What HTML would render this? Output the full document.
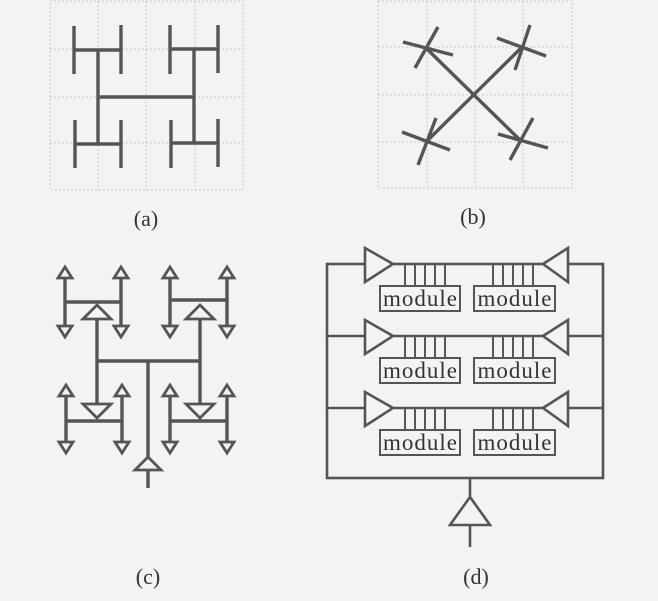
<!DOCTYPE html>
<html><head><meta charset="utf-8"><style>
html,body{margin:0;padding:0;background:#f3f3f1;}
svg{display:block}
text{font-family:"Liberation Serif",serif;fill:#333}
</style></head><body>
<svg width="658" height="601" viewBox="0 0 658 601" xmlns="http://www.w3.org/2000/svg">
<rect width="658" height="601" fill="#f3f3f1"/>
<g stroke="#c8c8c8" stroke-width="1" stroke-dasharray="2,2" fill="none">
 <rect x="50" y="1" width="193" height="189"/>
 <line x1="98" y1="1" x2="98" y2="190"/><line x1="146" y1="1" x2="146" y2="190"/><line x1="195" y1="1" x2="195" y2="190"/>
 <line x1="50" y1="49" x2="243" y2="49"/><line x1="50" y1="97" x2="243" y2="97"/><line x1="50" y1="143" x2="243" y2="143"/>
 <rect x="378" y="1" width="194" height="187"/>
 <line x1="427" y1="1" x2="427" y2="188"/><line x1="475" y1="1" x2="475" y2="188"/><line x1="523" y1="1" x2="523" y2="188"/>
 <line x1="378" y1="47" x2="572" y2="47"/><line x1="378" y1="95" x2="572" y2="95"/><line x1="378" y1="142" x2="572" y2="142"/>
</g>
<g stroke="#555" stroke-width="3.4" fill="none" stroke-linecap="butt">
 <line x1="98" y1="97" x2="194" y2="97"/>
 <line x1="98" y1="49" x2="98" y2="145"/><line x1="194" y1="49" x2="194" y2="144"/>
 <line x1="74" y1="50" x2="121" y2="50"/><line x1="74" y1="26" x2="74" y2="74"/><line x1="121" y1="25" x2="121" y2="74"/>
 <line x1="170" y1="49" x2="218" y2="49"/><line x1="170" y1="25" x2="170" y2="74"/><line x1="218" y1="25" x2="218" y2="73"/>
 <line x1="75" y1="144" x2="121" y2="144"/><line x1="75" y1="120" x2="75" y2="168"/><line x1="121" y1="120" x2="121" y2="168"/>
 <line x1="171" y1="143" x2="218" y2="143"/><line x1="171" y1="120" x2="171" y2="168"/><line x1="218" y1="119" x2="218" y2="167"/>
 <line x1="427" y1="49" x2="521" y2="141"/><line x1="521" y1="48" x2="427" y2="141"/>
 <line x1="403" y1="42" x2="453" y2="55"/><line x1="438" y1="27" x2="415" y2="68"/>
 <line x1="497" y1="38" x2="546" y2="56"/><line x1="530" y1="25" x2="515" y2="70"/>
 <line x1="402" y1="132" x2="450" y2="150"/><line x1="436" y1="118" x2="418" y2="165"/>
 <line x1="498" y1="134" x2="548" y2="148"/><line x1="533" y1="118" x2="510" y2="160"/>
 <line x1="148" y1="362" x2="148" y2="488"/>
 <line x1="98" y1="361" x2="200" y2="361"/>
 <line x1="97" y1="318" x2="97" y2="404"/><line x1="200" y1="318" x2="200" y2="404"/>
 <line x1="65" y1="302" x2="121" y2="302"/><line x1="170" y1="300" x2="227" y2="300"/>
 <line x1="66" y1="421" x2="122" y2="421"/><line x1="170" y1="421" x2="227" y2="421"/>
 <line x1="65" y1="277" x2="65" y2="326"/><line x1="121" y1="277" x2="121" y2="326"/>
 <line x1="170" y1="277" x2="170" y2="326"/><line x1="227" y1="277" x2="227" y2="326"/>
 <line x1="66" y1="395" x2="66" y2="443"/><line x1="122" y1="395" x2="122" y2="443"/>
 <line x1="170" y1="395" x2="170" y2="443"/><line x1="227" y1="395" x2="227" y2="443"/>
</g>
<g stroke="#555" stroke-width="2.8" fill="#f3f3f1" stroke-linejoin="miter">
 <polygon points="148,457 135,470 161,470"/>
 <polygon points="97,305 83,319 111,319"/><polygon points="200,305 186,319 214,319"/>
 <polygon points="97,418 83,404 111,404"/><polygon points="200,418 186,404 214,404"/>
 <polygon points="65,267 58,278 72,278"/><polygon points="121,267 114,278 128,278"/>
 <polygon points="170,267 163,278 177,278"/><polygon points="227,267 220,278 234,278"/>
 <polygon points="65,337 58,326 72,326"/><polygon points="121,337 114,326 128,326"/>
 <polygon points="170,337 163,326 177,326"/><polygon points="227,337 220,326 234,326"/>
 <polygon points="66,385 59,396 73,396"/><polygon points="122,385 115,396 129,396"/>
 <polygon points="170,385 163,396 177,396"/><polygon points="227,385 220,396 234,396"/>
 <polygon points="66,453 59,442 73,442"/><polygon points="122,453 115,442 129,442"/>
 <polygon points="170,453 163,442 177,442"/><polygon points="227,453 220,442 234,442"/>
</g>
<g stroke="#555" stroke-width="2.6" fill="none">
 <rect x="327" y="264" width="276" height="214"/>
 <line x1="327" y1="336" x2="603" y2="336"/>
 <line x1="327" y1="408" x2="603" y2="408"/>
 <line x1="470" y1="478" x2="470" y2="547"/>
</g>
<g stroke="#555" stroke-width="2.6" fill="#f3f3f1">
 <polygon points="470,497 450,525 490,525"/>
 <polygon points="365,248 393,264 365,282"/><polygon points="568,248 543,264 568,282"/>
 <polygon points="365,320 393,336 365,354"/><polygon points="568,320 543,336 568,354"/>
 <polygon points="365,392 393,408 365,426"/><polygon points="568,392 543,408 568,426"/>
</g>
<g stroke="#555" stroke-width="2" fill="none">
 <g id="r1">
  <line x1="405" y1="264" x2="405" y2="286"/><line x1="415" y1="264" x2="415" y2="286"/><line x1="425" y1="264" x2="425" y2="286"/><line x1="435" y1="264" x2="435" y2="286"/><line x1="445" y1="264" x2="445" y2="286"/>
  <line x1="493" y1="264" x2="493" y2="286"/><line x1="503" y1="264" x2="503" y2="286"/><line x1="513" y1="264" x2="513" y2="286"/><line x1="523" y1="264" x2="523" y2="286"/><line x1="533" y1="264" x2="533" y2="286"/>
  <rect x="380" y="286" width="80" height="25" fill="#f3f3f1"/>
  <rect x="474" y="286" width="81" height="25" fill="#f3f3f1"/>
 </g>
 <use href="#r1" y="72"/>
 <use href="#r1" y="144"/>
</g>
<g font-size="23" text-anchor="middle">
 <text x="420" y="306" textLength="74">module</text><text x="514.5" y="306" textLength="74">module</text>
 <text x="420" y="378" textLength="74">module</text><text x="514.5" y="378" textLength="74">module</text>
 <text x="420" y="450" textLength="74">module</text><text x="514.5" y="450" textLength="74">module</text>
</g>
<g font-size="22" text-anchor="middle">
 <text x="146" y="226">(a)</text>
 <text x="473" y="224">(b)</text>
 <text x="148" y="584">(c)</text>
 <text x="476" y="584">(d)</text>
</g>
</svg>
</body></html>
